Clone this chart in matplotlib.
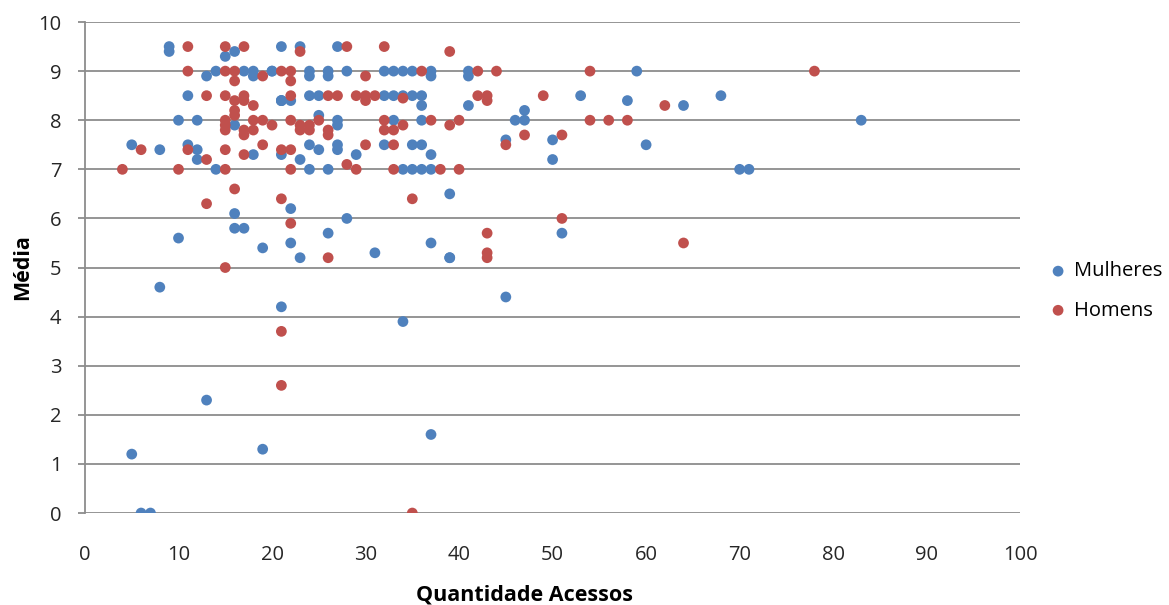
import matplotlib
matplotlib.use("Agg")
import matplotlib.pyplot as plt

plt.rcParams['font.family'] = ['Open Sans', 'DejaVu Sans']

# Mulheres: (acessos, média)
mulheres_x = [5, 5, 6, 7, 8, 8, 9, 9, 10, 10, 11, 11, 12, 12, 12, 13, 13, 14, 14,
              15, 16, 16, 16, 16, 17, 17, 18, 18, 18, 19, 19, 20, 20, 21, 21, 21,
              21, 21, 21, 22, 22, 22, 23, 23, 23, 24, 24, 24, 24, 24, 25, 25, 25,
              26, 26, 26, 26, 27, 27, 27, 27, 27, 28, 28, 29, 31, 32, 33, 34, 35,
              32, 33, 34, 35, 36, 32, 33, 35, 36, 34, 35, 36, 37, 37, 37, 37, 36,
              36, 34, 37, 37, 39, 39, 39, 41, 41, 41, 45, 45, 46, 47, 47, 50, 50,
              51, 53, 58, 59, 60, 64, 68, 70, 71, 83]
mulheres_y = [7.5, 1.2, 0.0, 0.0, 7.4, 4.6, 9.5, 9.4, 8.0, 5.6, 8.5, 7.5, 8.0, 7.4, 7.2,
              8.9, 2.3, 9.0, 7.0, 9.3, 9.4, 7.9, 6.1, 5.8, 9.0, 5.8, 9.0, 8.9, 7.3,
              5.4, 1.3, 9.0, 9.0, 9.5, 8.4, 7.3, 4.2, 8.4, 8.4, 8.4, 6.2, 5.5, 9.5,
              7.2, 5.2, 9.0, 8.9, 8.5, 7.5, 7.0, 8.5, 8.1, 7.4, 9.0, 8.9, 7.0, 5.7,
              9.5, 8.0, 7.9, 7.5, 7.4, 9.0, 6.0, 7.3, 5.3, 9.0, 9.0, 9.0, 9.0, 8.5,
              8.5, 8.5, 8.5, 8.5, 7.5, 8.0, 7.5, 7.5, 7.0, 7.0, 7.0, 7.0, 9.0, 8.9,
              7.3, 8.3, 8.0, 3.9, 5.5, 1.6, 6.5, 5.2, 5.2, 9.0, 8.9, 8.3, 7.6, 4.4,
              8.0, 8.2, 8.0, 7.6, 7.2, 5.7, 8.5, 8.4, 9.0, 7.5, 8.3, 8.5, 7.0, 7.0,
              8.0]

# Homens: (acessos, média)
homens_x = [4, 6, 10, 11, 11, 11, 13, 13, 13, 15, 15, 15, 15, 15, 15, 15, 15, 15,
            16, 16, 16, 16, 16, 16, 17, 17, 17, 17, 17, 17, 18, 18, 18, 19, 19, 19,
            20, 21, 21, 21, 21, 21, 22, 22, 22, 22, 22, 22, 22, 23, 23, 23, 24, 24,
            25, 26, 26, 26, 26, 27, 28, 28, 29, 29, 30, 30, 30, 30, 31, 32, 32, 32,
            33, 33, 33, 34, 34, 35, 35, 36, 37, 38, 39, 39, 40, 40, 42, 42, 43, 43,
            43, 43, 43, 44, 45, 47, 49, 51, 51, 54, 54, 56, 58, 62, 64, 78]
homens_y = [7.0, 7.4, 7.0, 9.5, 9.0, 7.4, 8.5, 7.2, 6.3, 9.5, 9.0, 8.5, 8.0, 7.9, 7.8,
            7.4, 7.0, 5.0, 9.0, 8.8, 8.4, 8.2, 8.1, 6.6, 9.5, 8.5, 7.8, 7.7, 7.3,
            8.4, 8.3, 8.0, 7.8, 8.9, 8.0, 7.5, 7.9, 9.0, 7.4, 6.4, 3.7, 2.6, 9.0,
            8.8, 8.5, 8.0, 7.4, 7.0, 5.9, 9.4, 7.9, 7.8, 7.9, 7.8, 8.0, 8.5, 7.8,
            7.7, 5.2, 8.5, 9.5, 7.1, 8.5, 7.0, 8.9, 8.5, 8.4, 7.5, 8.5, 9.5, 8.0,
            7.8, 7.8, 7.5, 7.0, 7.9, 8.45, 6.4, 0.0, 9.0, 8.0, 7.0, 9.4, 7.9, 8.0,
            7.0, 9.0, 8.5, 8.5, 8.4, 5.7, 5.3, 5.2, 9.0, 7.5, 7.7, 8.5, 7.7, 6.0,
            9.0, 8.0, 8.0, 8.0, 8.3, 5.5, 9.0]

azul = '#4F81BD'
vermelho = '#C0504D'

fig = plt.figure(figsize=(11.69, 6.05), dpi=100)
ax = fig.add_axes([0.0727, 0.152, 0.8, 0.8116])

ax.scatter(mulheres_x, mulheres_y, s=60, color=azul, label='Mulheres',
           edgecolors='none', zorder=3)
ax.scatter(homens_x, homens_y, s=60, color=vermelho, label='Homens',
           edgecolors='none', zorder=3)

ax.set_xlim(0, 100)
ax.set_ylim(0, 10)
ax.set_xticks(range(0, 101, 10))
ax.set_yticks(range(0, 11))
ax.yaxis.grid(True, color='#8C8C8C', linewidth=1.3, zorder=1)
ax.set_axisbelow(True)

for lado in ['top', 'right', 'bottom']:
    ax.spines[lado].set_visible(False)
ax.spines['left'].set_color('#8C8C8C')
ax.spines['left'].set_linewidth(1.3)
ax.tick_params(axis='y', length=5, width=1.3, color='#8C8C8C',
               labelsize=14.5, labelcolor='#262626', pad=12)
ax.tick_params(axis='x', length=0, labelsize=14.5, labelcolor='#262626', pad=23)

ax.set_xlabel('Quantidade Acessos', fontsize=15.5, fontweight='bold')
ax.set_ylabel('Média', fontsize=15.5, fontweight='bold')
ax.xaxis.set_label_coords(0.47, -0.146)
ax.yaxis.set_label_coords(-0.0556, 0.5)

ax.legend(loc='center left', bbox_to_anchor=(0.8965, 0.519),
          bbox_transform=fig.transFigure, frameon=False, fontsize=14.5,
          borderpad=0, borderaxespad=0, handlelength=1.0,
          handletextpad=0.3, labelspacing=0.95)

fig.savefig('out.png', dpi=100)
